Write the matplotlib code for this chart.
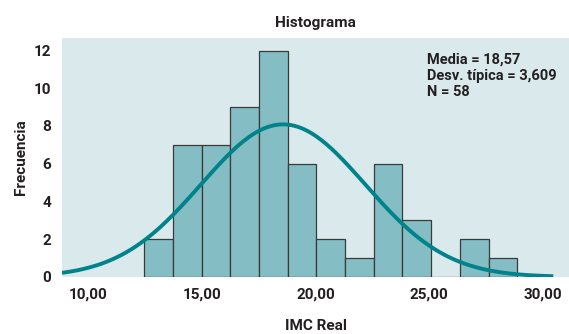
import numpy as np
import matplotlib.pyplot as plt

# Frecuencias por intervalo
counts = [2, 7, 7, 9, 12, 6, 2, 1, 6, 3, 0, 2, 1]
first_edge = 12.47
bin_width = 1.261

media = 18.57
desv = 3.609
n = 58

xticks = [10, 15, 20, 25, 30]
yticks = [0, 2, 4, 6, 8, 10, 12]

fam = ['Liberation Sans Narrow', 'Roboto', 'DejaVu Sans']
txt_col = '#231f20'

fig = plt.figure(figsize=(5.69, 3.34), dpi=100)
ax = fig.add_axes([0.109, 0.171, 0.891, 0.715])
ax.set_facecolor('#dae9ec')

lefts = [first_edge + i * bin_width for i in range(len(counts))]
ax.bar(lefts, counts, width=bin_width, align='edge',
       color='#84bdc4', edgecolor='#3a3a3a', linewidth=0.9, zorder=2)

# curva normal ajustada
xs = np.linspace(8.85, 30.45, 300)
ys = n * bin_width / (desv * np.sqrt(2 * np.pi)) * np.exp(-0.5 * ((xs - media) / desv) ** 2)
ax.plot(xs, ys, color='#00838a', linewidth=2.8, zorder=3, solid_capstyle='butt')

ax.set_xlim(8.85, 31.14)
ax.set_ylim(0, 12.66)

ax.set_xticks(xticks)
ax.set_xticklabels([('%.2f' % v).replace('.', ',') for v in xticks], family=fam,
                   fontsize=11, weight='bold', color=txt_col)
ax.set_yticks(yticks)
ax.set_yticklabels([str(v) for v in yticks], family=fam, fontsize=11,
                   weight='bold', color=txt_col)
ax.tick_params(length=0, pad=8)
for s in ax.spines.values():
    s.set_visible(False)

ax.set_xlabel('IMC Real', family=fam, fontsize=11, weight='bold',
              color=txt_col, labelpad=12)
ax.set_ylabel('Frecuencia', family=fam, fontsize=11, weight='bold',
              color=txt_col, labelpad=4)
ax.set_title('Histograma', family=fam, fontsize=11, weight='bold',
             color=txt_col, pad=8)

stats = 'Media = 18,57\nDesv. típica = 3,609\nN = 58'
fig.text(427 / 569, 1 - 53 / 334, stats, family=fam, fontsize=10.5, weight='bold',
         color=txt_col, va='top', ha='left', linespacing=1.2)

fig.savefig('out.png', dpi=100)
